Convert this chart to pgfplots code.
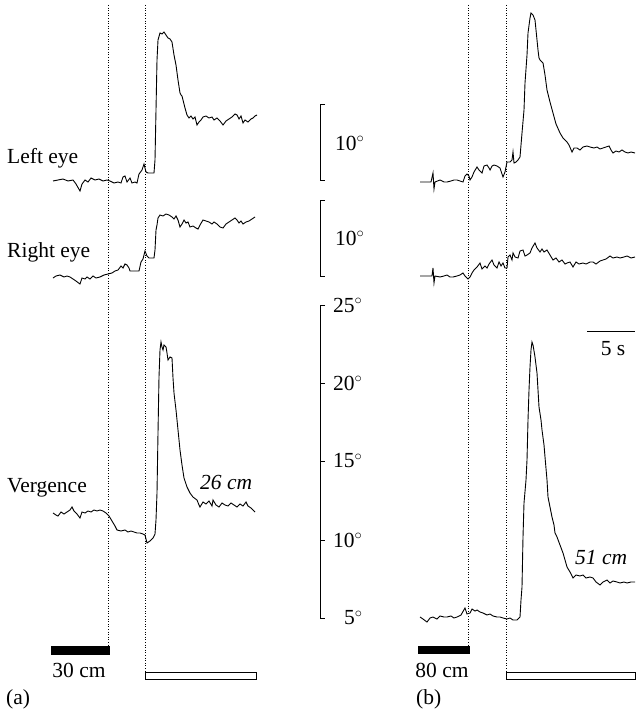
\documentclass[border=0pt]{standalone}
\usepackage{pgfplots}
\pgfplotsset{compat=1.18}
\usepackage{fontspec}
\setmainfont{Liberation Serif}
\begin{document}
\begin{tikzpicture}
\begin{axis}[
  hide axis, scale only axis, width=635pt, height=714pt,
  xmin=0, xmax=635, ymin=0, ymax=714, y dir=reverse, clip=false,
  every axis plot/.append style={no markers},
]
\def\fs{\fontsize{21.5}{25}\selectfont}
% dotted event lines
\addplot[black, dotted, line width=0.6pt] coordinates {(108,5)(108,646)};
\addplot[black, dotted, line width=0.6pt] coordinates {(145,5)(145,672)};
\addplot[black, dotted, line width=0.6pt] coordinates {(468,5)(468,646)};
\addplot[black, dotted, line width=0.6pt] coordinates {(506,5)(506,672)};
% (a) Left eye
\addplot[black, line width=0.9pt] coordinates {
(53,181)(58,180)(63,179)(68,181)(73,180)(76,184)(80,191)(82,184)(85,180)(88,182)(91,178)(95,180)(99,179)(103,181)(107,180)(110,181)(114,183)(118,182)(121,183)(123,177)(125,176)(127,182)(130,178)(132,183)(135,182)(137,183)(139,174)(142,170)(144,164)(146,172)(148,173)(151,173)(154,173)(155,160)(156,110)(157,60)(158,40)(160,33)(162,34)(164,32)(166,35)(168,38)(170,39)(172,42)(174,55)(176,65)(178,80)(180,93)(181,95)(182,96)(183,100)(185,108)(187,115)(189,118)(191,116)(193,119)(195,117)(197,125)(199,122)(201,120)(203,117)(206,116)(209,118)(212,117)(214,120)(217,118)(220,121)(223,125)(226,121)(229,119)(232,117)(235,114)(237,115)(239,119)(241,116)(243,123)(245,120)(248,122)(251,119)(253,118)(255,116)(257,115)};
% (a) Right eye
\addplot[black, line width=0.9pt] coordinates {
(53,278)(56,276)(60,275)(64,277)(67,276)(70,277)(73,279)(76,281)(80,284)(82,278)(85,279)(87,277)(90,279)(93,276)(96,278)(100,277)(104,275)(108,274)(112,273)(115,271)(118,270)(121,266)(123,268)(125,264)(127,265)(129,268)(130,271)(134,271)(139,271)(141,262)(143,259)(145,251)(147,256)(149,258)(154,258)(155,250)(156,230)(157,225)(158,218)(160,215)(163,216)(166,214)(169,215)(172,217)(174,219)(176,216)(178,220)(180,227)(182,224)(184,220)(186,223)(188,222)(190,227)(193,226)(196,228)(198,229)(200,225)(203,220)(206,221)(209,222)(212,224)(214,222)(217,224)(220,227)(223,228)(226,224)(229,222)(232,220)(235,218)(237,220)(239,223)(241,221)(243,224)(246,222)(249,221)(252,219)(255,217)};
% (a) Vergence
\addplot[black, line width=0.9pt] coordinates {
(53,513)(56,515)(58,516)(61,512)(64,514)(67,512)(70,510)(72,507)(74,511)(77,514)(80,518)(82,512)(85,513)(88,511)(91,512)(94,510)(97,511)(100,510)(103,511)(106,513)(109,516)(112,521)(115,526)(117,530)(121,531)(125,530)(128,532)(131,531)(134,532)(137,533)(140,533)(143,534)(145,535)(147,543)(150,541)(153,538)(155,534)(156,520)(157,493)(158,433)(159,377)(160,350)(161,342)(162,347)(163,350)(164,345)(166,347)(167,353)(168,360)(170,357)(172,358)(173,378)(174,393)(176,410)(178,430)(180,450)(182,465)(184,478)(187,487)(190,493)(193,497)(197,500)(199,505)(200,507)(203,502)(206,504)(209,501)(212,506)(213,500)(216,505)(219,507)(222,503)(225,505)(228,506)(231,503)(234,505)(237,507)(240,504)(243,506)(246,502)(248,506)(251,508)(253,510)(255,512)};
% (b) Left eye
\addplot[black, line width=0.9pt] coordinates {
(420,182)(428,182)(431,182)(433,173)(434,189)(435,182)(440,180)(444,182)(447,182)(451,181)(454,180)(457,180)(460,181)(463,182)(465,176)(467,174)(469,176)(470,180)(472,177)(474,172)(477,167)(479,170)(482,173)(484,166)(487,165)(489,168)(490,170)(492,166)(494,165)(497,166)(500,168)(503,177)(505,172)(507,162)(510,162)(512,160)(513,152)(514,163)(516,162)(518,160)(520,157)(521,145)(522,133)(524,110)(525,83)(527,55)(528,33)(530,18)(531,13)(533,15)(535,20)(536,30)(537,40)(538,50)(539,58)(540,60)(542,62)(543,63)(545,75)(547,90)(550,102)(553,113)(556,124)(560,133)(563,138)(567,142)(569,145)(572,152)(574,148)(577,148)(580,150)(583,147)(587,146)(590,147)(594,148)(597,147)(600,149)(603,148)(606,147)(609,146)(611,150)(613,153)(616,151)(619,152)(622,150)(625,152)(628,153)(631,152)(635,153)};
% (b) Right eye
\addplot[black, line width=0.9pt] coordinates {
(420,276)(428,276)(432,276)(433,268)(434,283)(435,276)(440,277)(444,276)(447,275)(450,277)(453,277)(457,276)(460,275)(463,273)(465,276)(468,279)(470,277)(472,273)(474,270)(477,267)(480,263)(482,269)(485,266)(487,268)(489,264)(492,260)(494,265)(497,268)(499,262)(501,266)(503,263)(505,268)(507,268)(508,257)(510,255)(512,260)(513,253)(515,257)(518,258)(520,251)(523,250)(525,256)(527,255)(530,253)(532,248)(535,243)(537,248)(540,252)(542,249)(544,252)(547,250)(550,255)(553,260)(556,258)(559,262)(562,260)(565,264)(567,263)(570,262)(573,267)(576,262)(579,264)(583,263)(586,264)(590,262)(593,262)(596,264)(600,261)(603,260)(606,259)(610,256)(613,258)(617,257)(620,258)(624,257)(627,256)(631,258)(635,257)};
% (b) Vergence
\addplot[black, line width=0.9pt] coordinates {
(420,617)(423,619)(427,622)(430,618)(433,617)(437,619)(440,616)(444,617)(447,617)(451,616)(454,618)(457,617)(461,615)(465,608)(467,614)(470,613)(472,609)(475,611)(477,610)(480,612)(483,613)(487,615)(490,614)(493,616)(497,617)(500,617)(503,618)(507,619)(510,618)(513,620)(517,620)(520,617)(521,600)(522,587)(523,537)(524,503)(526,480)(527,460)(528,420)(529,390)(530,367)(531,350)(532,342)(533,345)(535,357)(537,373)(538,390)(539,407)(541,420)(542,430)(544,445)(545,457)(547,480)(548,497)(550,507)(552,517)(554,525)(555,533)(557,537)(560,545)(563,553)(565,560)(567,567)(570,572)(573,578)(576,575)(580,576)(583,575)(586,578)(590,577)(593,578)(596,582)(600,585)(603,582)(607,580)(610,583)(613,581)(617,582)(620,583)(624,582)(627,583)(631,582)(635,582)};
% scale brackets
\addplot[black, line width=0.8pt] coordinates {(325,104)(320,104)(320,180)(325,180)};
\addplot[black, line width=0.8pt] coordinates {(325,200)(320,200)(320,276)(325,276)};
\addplot[black, line width=0.8pt] coordinates {(325,305)(320,305)(320,618)(325,618)};
\addplot[black, line width=0.8pt] coordinates {(320,383)(325,383)};
\addplot[black, line width=0.8pt] coordinates {(320,461)(325,461)};
\addplot[black, line width=0.8pt] coordinates {(320,540)(325,540)};
% time scale
\addplot[black, line width=0.9pt] coordinates {(587,331)(635,331)};
% target bars
\addplot[black, fill=black, line width=0.5pt] coordinates {(51,646)(109,646)(109,654)(51,654)} --cycle;
\addplot[black, fill=black, line width=0.5pt] coordinates {(418,646)(469,646)(469,653)(418,653)} --cycle;
\addplot[black, fill=white, line width=0.9pt] coordinates {(145,672)(256,672)(256,679)(145,679)} --cycle;
\addplot[black, fill=white, line width=0.9pt] coordinates {(506,672)(635,672)(635,679)(506,679)} --cycle;
% labels
\node[anchor=west, font=\fs, inner sep=0pt] at (axis cs:7,158) {Left eye};
\node[anchor=west, font=\fs, inner sep=0pt] at (axis cs:7,252) {Right eye};
\node[anchor=west, font=\fs, inner sep=0pt] at (axis cs:7,488) {Vergence};
\node[anchor=west, font=\fs\itshape, inner sep=0pt] at (axis cs:200,482) {26 cm};
\node[anchor=west, font=\fs\itshape, inner sep=0pt] at (axis cs:575,558) {51 cm};
\node[font=\fs, inner sep=0pt] at (axis cs:79,670) {30 cm};
\node[font=\fs, inner sep=0pt] at (axis cs:442,670) {80 cm};
\node[anchor=west, font=\fs, inner sep=0pt] at (axis cs:6,699) {(a)};
\node[anchor=west, font=\fs, inner sep=0pt] at (axis cs:416,699) {(b)};
\node[anchor=west, font=\fs, inner sep=0pt] at (axis cs:335,143) {10$^{\circ}$};
\node[anchor=west, font=\fs, inner sep=0pt] at (axis cs:335,238) {10$^{\circ}$};
\node[anchor=west, font=\fs, inner sep=0pt] at (axis cs:333,305) {25$^{\circ}$};
\node[anchor=west, font=\fs, inner sep=0pt] at (axis cs:333,383) {20$^{\circ}$};
\node[anchor=west, font=\fs, inner sep=0pt] at (axis cs:333,461) {15$^{\circ}$};
\node[anchor=west, font=\fs, inner sep=0pt] at (axis cs:333,540) {10$^{\circ}$};
\node[anchor=west, font=\fs, inner sep=0pt] at (axis cs:344,618) {5$^{\circ}$};
\node[font=\fs, inner sep=0pt] at (axis cs:613,349) {5 s};
\end{axis}
\pgfresetboundingbox
\path (0,0) rectangle (635pt,714pt);
\end{tikzpicture}
\end{document}
